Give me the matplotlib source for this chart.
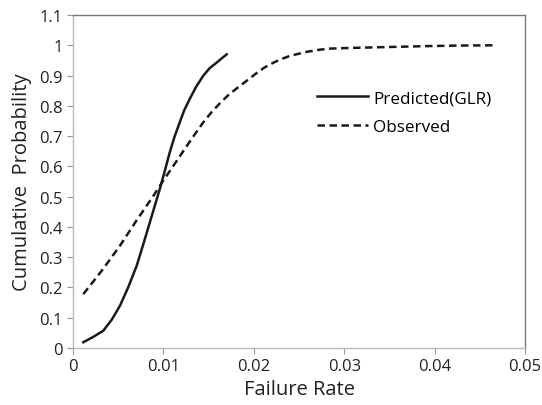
import matplotlib.pyplot as plt

# data
pred_x = [0.00114, 0.0022, 0.00335, 0.0043, 0.0052, 0.0061, 0.00705, 0.0078, 0.0085, 0.0091,
          0.0096, 0.0102, 0.0107, 0.0112, 0.0118, 0.0123, 0.0129, 0.0136, 0.0144, 0.0151, 0.0159, 0.0165, 0.0170]
pred_y = [0.019, 0.036, 0.057, 0.094, 0.14, 0.20, 0.272, 0.345, 0.415, 0.475,
          0.525, 0.59, 0.646, 0.695, 0.745, 0.785, 0.822, 0.862, 0.899, 0.924, 0.943, 0.958, 0.970]

obs_x = [0.00114, 0.0022, 0.0033, 0.0052, 0.0070, 0.0089, 0.0101, 0.0114, 0.0126, 0.0135, 0.0144,
         0.0153, 0.0163, 0.0172, 0.0183, 0.0194, 0.0203, 0.0212, 0.0222, 0.0231, 0.024, 0.0258,
         0.0272, 0.0284, 0.0305, 0.0332, 0.036, 0.0387, 0.0425, 0.0465]
obs_y = [0.178, 0.218, 0.26, 0.338, 0.42, 0.503, 0.558, 0.615, 0.668, 0.707, 0.745,
         0.778, 0.81, 0.836, 0.862, 0.887, 0.908, 0.927, 0.943, 0.955, 0.965, 0.978,
         0.985, 0.989, 0.991, 0.993, 0.995, 0.997, 0.999, 1.0]

xticks = [0, 0.01, 0.02, 0.03, 0.04, 0.05]
xtick_labels = ['0', '0.01', '0.02', '0.03', '0.04', '0.05']
yticks = [0, 0.1, 0.2, 0.3, 0.4, 0.5, 0.6, 0.7, 0.8, 0.9, 1.0, 1.1]
ytick_labels = ['0', '0.1', '0.2', '0.3', '0.4', '0.5', '0.6', '0.7', '0.8', '0.9', '1', '1.1']

plt.rcParams['font.family'] = ['Open Sans', 'DejaVu Sans']

fig = plt.figure(figsize=(5.42, 4.06), dpi=100)
ax = fig.add_axes([73 / 542, 1 - 349 / 406, (525 - 73) / 542, (349 - 16) / 406])

ax.plot(pred_x, pred_y, color='#1a1a1a', lw=1.8, ls='-', label='Predicted(GLR)')
ax.plot(obs_x, obs_y, color='#1a1a1a', lw=1.8, ls=(0, (3, 1.8)), label='Observed')

ax.set_xlim(0, 0.05)
ax.set_ylim(0, 1.1)
ax.set_xticks(xticks)
ax.set_xticklabels(xtick_labels)
ax.set_yticks(yticks)
ax.set_yticklabels(ytick_labels)
ax.tick_params(labelsize=12, length=4, width=0.8, color='#999999', labelcolor='#222222')

for side in ['left', 'bottom']:
    ax.spines[side].set_color('#bbbbbb')
for side in ['top', 'right']:
    ax.spines[side].set_color('#777777')
for s in ax.spines.values():
    s.set_linewidth(1.0)

ax.set_xlabel('Failure Rate', fontsize=14.5, color='#222222', labelpad=3)
ax.set_ylabel('Cumulative  Probability', fontsize=14.5, color='#222222', labelpad=5)

leg = ax.legend(loc='upper left', bbox_to_anchor=(0.505, 0.82), frameon=False,
                fontsize=12.3, handlelength=3.0, handletextpad=0.3, labelspacing=0.72)

fig.savefig('out.png', dpi=100)
